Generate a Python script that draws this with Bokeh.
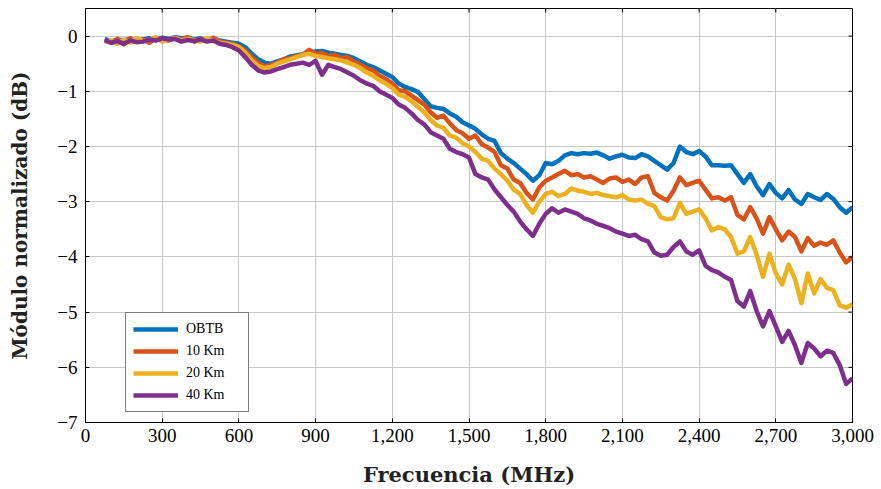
from bokeh.plotting import figure
from bokeh.models import (Range1d, FixedTicker, Legend, LegendItem,
                          NumeralTickFormatter)
from bokeh.embed import file_html
from bokeh.resources import INLINE

# ---- data -------------------------------------------------------------
freq_start, freq_step, freq_stop = 75, 25, 3000
freqs = list(range(freq_start, freq_stop + 1, freq_step))

obtb = [
    -0.05, -0.10, -0.06, -0.08, -0.05, -0.09, -0.06, -0.04, -0.06, -0.03,
    -0.05, -0.02, -0.04, -0.03, -0.06, -0.04, -0.07, -0.05, -0.08, -0.10,
    -0.12, -0.14, -0.20, -0.32, -0.42, -0.48, -0.50, -0.46, -0.42, -0.37,
    -0.35, -0.33, -0.30, -0.28, -0.27, -0.30, -0.32, -0.34, -0.36, -0.40,
    -0.46, -0.52, -0.56, -0.62, -0.68, -0.74, -0.86, -0.92, -0.96, -1.01,
    -1.14, -1.27, -1.30, -1.32, -1.40, -1.46, -1.56, -1.62, -1.68, -1.78,
    -1.86, -1.90, -2.12, -2.22, -2.30, -2.40, -2.50, -2.62, -2.52, -2.30,
    -2.32, -2.26, -2.16, -2.12, -2.14, -2.12, -2.13, -2.11, -2.16, -2.22,
    -2.18, -2.15, -2.20, -2.21, -2.14, -2.18, -2.26, -2.34, -2.42, -2.30,
    -2.00, -2.10, -2.14, -2.08, -2.18, -2.34, -2.34, -2.35, -2.34, -2.50,
    -2.66, -2.50, -2.72, -2.88, -2.68, -2.84, -2.94, -2.79, -2.96, -3.04,
    -2.86, -2.92, -2.97, -2.86, -2.95, -3.10, -3.20, -3.10,
]
km10 = [
    -0.08, -0.12, -0.05, -0.15, -0.04, -0.10, -0.06, -0.12, -0.03, -0.06,
    -0.08, -0.04, -0.06, -0.02, -0.10, -0.05, -0.08, -0.03, -0.10, -0.12,
    -0.14, -0.18, -0.26, -0.38, -0.48, -0.55, -0.52, -0.48, -0.42, -0.40,
    -0.36, -0.34, -0.25, -0.32, -0.30, -0.36, -0.34, -0.40, -0.38, -0.46,
    -0.52, -0.58, -0.62, -0.72, -0.78, -0.86, -0.98, -1.00, -1.08, -1.16,
    -1.24, -1.38, -1.48, -1.44, -1.58, -1.70, -1.76, -1.86, -1.80, -1.96,
    -2.02, -2.10, -2.34, -2.40, -2.60, -2.66, -2.84, -2.96, -2.74, -2.62,
    -2.56, -2.50, -2.44, -2.52, -2.50, -2.56, -2.54, -2.60, -2.66, -2.58,
    -2.56, -2.64, -2.60, -2.68, -2.56, -2.54, -2.84, -2.92, -2.98, -2.80,
    -2.56, -2.70, -2.66, -2.62, -2.78, -2.94, -2.92, -2.98, -2.92, -3.24,
    -3.32, -3.10, -3.30, -3.58, -3.28, -3.50, -3.70, -3.54, -3.64, -3.90,
    -3.66, -3.80, -3.74, -3.78, -3.70, -3.92, -4.10, -4.00,
]
km20 = [
    -0.10, -0.08, -0.14, -0.06, -0.12, -0.04, -0.09, -0.06, -0.02, -0.10,
    -0.06, -0.03, -0.08, -0.05, -0.07, -0.10, -0.04, -0.08, -0.12, -0.14,
    -0.16, -0.20, -0.30, -0.44, -0.54, -0.58, -0.56, -0.50, -0.46, -0.42,
    -0.38, -0.34, -0.32, -0.36, -0.38, -0.40, -0.42, -0.44, -0.48, -0.52,
    -0.58, -0.66, -0.72, -0.80, -0.86, -0.94, -1.06, -1.10, -1.18, -1.28,
    -1.38, -1.52, -1.62, -1.66, -1.80, -1.84, -1.94, -2.00, -2.10, -2.22,
    -2.26, -2.40, -2.50, -2.62, -2.78, -2.86, -3.06, -3.20, -3.00, -2.86,
    -2.82, -2.90, -2.86, -2.76, -2.80, -2.82, -2.86, -2.84, -2.88, -2.90,
    -2.92, -2.88, -2.96, -2.98, -2.96, -3.04, -3.08, -3.28, -3.32, -3.30,
    -3.02, -3.22, -3.18, -3.14, -3.30, -3.52, -3.46, -3.50, -3.64, -3.94,
    -3.90, -3.64, -3.96, -4.36, -3.94, -4.30, -4.50, -4.14, -4.40, -4.84,
    -4.30, -4.66, -4.40, -4.56, -4.60, -4.88, -4.92, -4.86,
]
km40 = [
    -0.07, -0.12, -0.09, -0.14, -0.08, -0.11, -0.10, -0.06, -0.08, -0.04,
    -0.06, -0.05, -0.10, -0.07, -0.09, -0.06, -0.10, -0.08, -0.14, -0.16,
    -0.20, -0.26, -0.38, -0.52, -0.62, -0.66, -0.64, -0.60, -0.56, -0.52,
    -0.50, -0.48, -0.52, -0.45, -0.70, -0.52, -0.56, -0.60, -0.66, -0.72,
    -0.80, -0.86, -0.90, -1.00, -1.06, -1.12, -1.24, -1.30, -1.40, -1.52,
    -1.60, -1.74, -1.80, -1.86, -2.04, -2.10, -2.14, -2.20, -2.50, -2.56,
    -2.60, -2.78, -2.92, -3.06, -3.18, -3.36, -3.50, -3.62, -3.40, -3.22,
    -3.12, -3.20, -3.14, -3.18, -3.22, -3.30, -3.34, -3.40, -3.44, -3.48,
    -3.54, -3.58, -3.62, -3.60, -3.68, -3.72, -3.92, -3.98, -3.96, -3.82,
    -3.72, -3.90, -3.96, -3.88, -4.16, -4.24, -4.28, -4.36, -4.42, -4.80,
    -4.90, -4.62, -4.98, -5.26, -4.98, -5.26, -5.54, -5.34, -5.60, -5.92,
    -5.56, -5.66, -5.80, -5.70, -5.74, -5.96, -6.30, -6.20,
]

series_names = ["OBTB", "10 Km", "20 Km", "40 Km"]
series_values = [obtb, km10, km20, km40]
series_colors = ["#0072BD", "#D95319", "#EDB120", "#7E2F8E"]

x_ticks = [0, 300, 600, 900, 1200, 1500, 1800, 2100, 2400, 2700, 3000]
y_ticks = [-7, -6, -5, -4, -3, -2, -1, 0]
y_tick_labels = {t: ("\u2212%d" % -t if t < 0 else "%d" % t) for t in y_ticks}

x_label = "Frecuencia (MHz)"
y_label = "Módulo normalizado (dB)"

# ---- figure -----------------------------------------------------------
TICK_FONT = "Liberation Serif"
LABEL_FONT = "DejaVu Serif"
X0, X1, Y0, Y1 = 0, 3000, -7, 0.5
FW, FH = 767, 414
TICK_PX = 4

p = figure(frame_width=FW, frame_height=FH,
           x_range=Range1d(X0, X1), y_range=Range1d(Y0, Y1),
           output_backend="svg", toolbar_location=None,
           min_border_left=85, min_border_right=24, min_border_top=8,
           min_border_bottom=10)
p.background_fill_color = "white"
p.border_fill_color = "white"
p.outline_line_color = "black"
p.outline_line_width = 1

renderers = []
for vals, col in zip(series_values, series_colors):
    r = p.line(freqs, vals, line_color=col, line_width=4.5, line_join="round")
    renderers.append(r)

for ax, ticks in ((p.xaxis[0], x_ticks), (p.yaxis[0], y_ticks)):
    ax.ticker = FixedTicker(ticks=ticks)
    ax.major_tick_in = TICK_PX
    ax.major_tick_out = 0
    ax.minor_tick_line_color = None
    ax.axis_line_color = "black"
    ax.major_tick_line_color = "black"
    ax.major_label_text_font = TICK_FONT
    ax.major_label_text_font_size = "19px"
    ax.major_label_text_color = "black"
    ax.axis_label_text_font = LABEL_FONT
    ax.axis_label_text_font_style = "bold"
    ax.axis_label_text_color = "#222222"

p.xaxis[0].axis_label_text_font_size = "21px"
p.yaxis[0].axis_label_text_font_size = "20px"
p.xaxis[0].formatter = NumeralTickFormatter(format="0,0")
p.yaxis[0].major_label_overrides = y_tick_labels
p.xaxis[0].axis_label = x_label
p.yaxis[0].axis_label = y_label
p.xaxis[0].major_label_standoff = 6
p.yaxis[0].major_label_standoff = 8
p.xaxis[0].axis_label_standoff = 17
p.yaxis[0].axis_label_standoff = 22

p.xgrid.ticker = FixedTicker(ticks=x_ticks)
p.ygrid.ticker = FixedTicker(ticks=y_ticks)
for g in (p.xgrid[0], p.ygrid[0]):
    g.grid_line_color = "#c8c8c8"
    g.grid_line_width = 1

# mirrored tick marks on the top and right frame edges
dy = TICK_PX * (Y1 - Y0) / FH
dx = TICK_PX * (X1 - X0) / FW
p.segment(x0=x_ticks, y0=[Y1] * len(x_ticks), x1=x_ticks, y1=[Y1 - dy] * len(x_ticks),
          line_color="black", line_width=1)
p.segment(x0=[X1] * len(y_ticks), y0=y_ticks, x1=[X1 - dx] * len(y_ticks), y1=y_ticks,
          line_color="black", line_width=1)

legend = Legend(items=[LegendItem(label=n, renderers=[r])
                       for n, r in zip(series_names, renderers)],
                location=(40, 10))
legend.label_text_font = TICK_FONT
legend.label_text_font_size = "14px"
legend.label_text_color = "black"
legend.glyph_width = 45
legend.glyph_height = 18
legend.label_height = 18
legend.label_width = 55
legend.label_standoff = 8
legend.spacing = 4
legend.padding = 7
legend.margin = 0
legend.border_line_color = "black"
legend.border_line_width = 1
legend.background_fill_alpha = 1
p.add_layout(legend)

open("out.html", "w").write(file_html(p, INLINE))
